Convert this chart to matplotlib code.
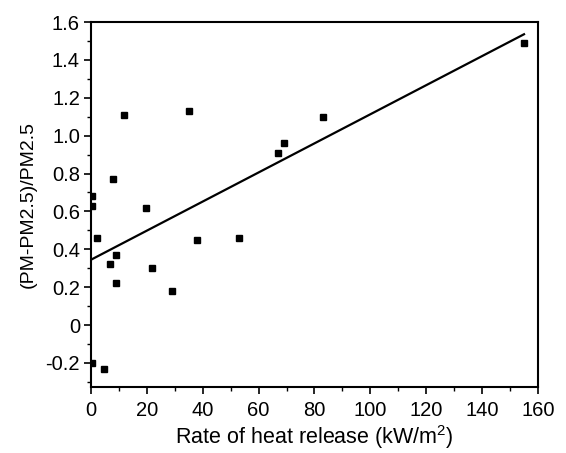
import matplotlib

matplotlib.use("Agg")

import matplotlib.pyplot as plt
import numpy as np
from matplotlib.ticker import FixedLocator, MultipleLocator

plt.rcParams["font.family"] = ["Liberation Sans", "DejaVu Sans"]
plt.rcParams["mathtext.fontset"] = "custom"
plt.rcParams["mathtext.rm"] = "Liberation Sans"

# measured points
heat_release = [0.3, 4.7, 0.5, 0.5, 2.0, 7.8, 11.9, 35.0, 19.7, 8.9,
                6.8, 8.8, 21.9, 28.9, 37.8, 53.1, 67.0, 69.0, 82.9, 155.0]
pm_ratio = [-0.20, -0.23, 0.68, 0.63, 0.46, 0.77, 1.11, 1.13, 0.62, 0.37,
            0.32, 0.22, 0.30, 0.18, 0.45, 0.46, 0.91, 0.96, 1.10, 1.49]

# fitted line
fit_intercept = 0.345
fit_slope = 0.00768
fit_x = [0.0, 155.0]

y_ticks = [-0.2, 0.0, 0.2, 0.4, 0.6, 0.8, 1.0, 1.2, 1.4, 1.6]
y_tick_labels = ["-0.2", "0", "0.2", "0.4", "0.6", "0.8", "1.0", "1.2", "1.4", "1.6"]
x_ticks = [0, 20, 40, 60, 80, 100, 120, 140, 160]

fig = plt.figure(figsize=(5.66, 4.53), dpi=100)
ax = fig.add_axes([0.1608, 0.1457, 0.7897, 0.8057])

ax.plot(heat_release, pm_ratio, linestyle="none", marker="s",
        markersize=5, color="black")
fit_y = fit_intercept + fit_slope * np.array(fit_x)
ax.plot(fit_x, fit_y, color="black", linewidth=1.6)

ax.set_xlim(0, 160)
ax.set_ylim(-0.327, 1.6)
ax.yaxis.set_major_locator(FixedLocator(y_ticks))
ax.set_yticklabels(y_tick_labels)
ax.yaxis.set_minor_locator(MultipleLocator(0.1))
ax.set_xticks(x_ticks)
ax.xaxis.set_minor_locator(MultipleLocator(10))

for spine in ax.spines.values():
    spine.set_linewidth(1.5)
ax.tick_params(which="major", direction="out", length=5, width=1.2,
               labelsize=14.5, colors="black")
ax.tick_params(which="minor", direction="out", length=3, width=1.0)
ax.tick_params(axis="y", pad=3)
ax.tick_params(axis="x", pad=5)

ax.set_xlabel("Rate of heat release (kW/m$^2$)", fontsize=15.5, labelpad=2)
ax.set_ylabel("(PM-PM2.5)/PM2.5", fontsize=14, labelpad=6)

fig.savefig("out.png", dpi=100)
